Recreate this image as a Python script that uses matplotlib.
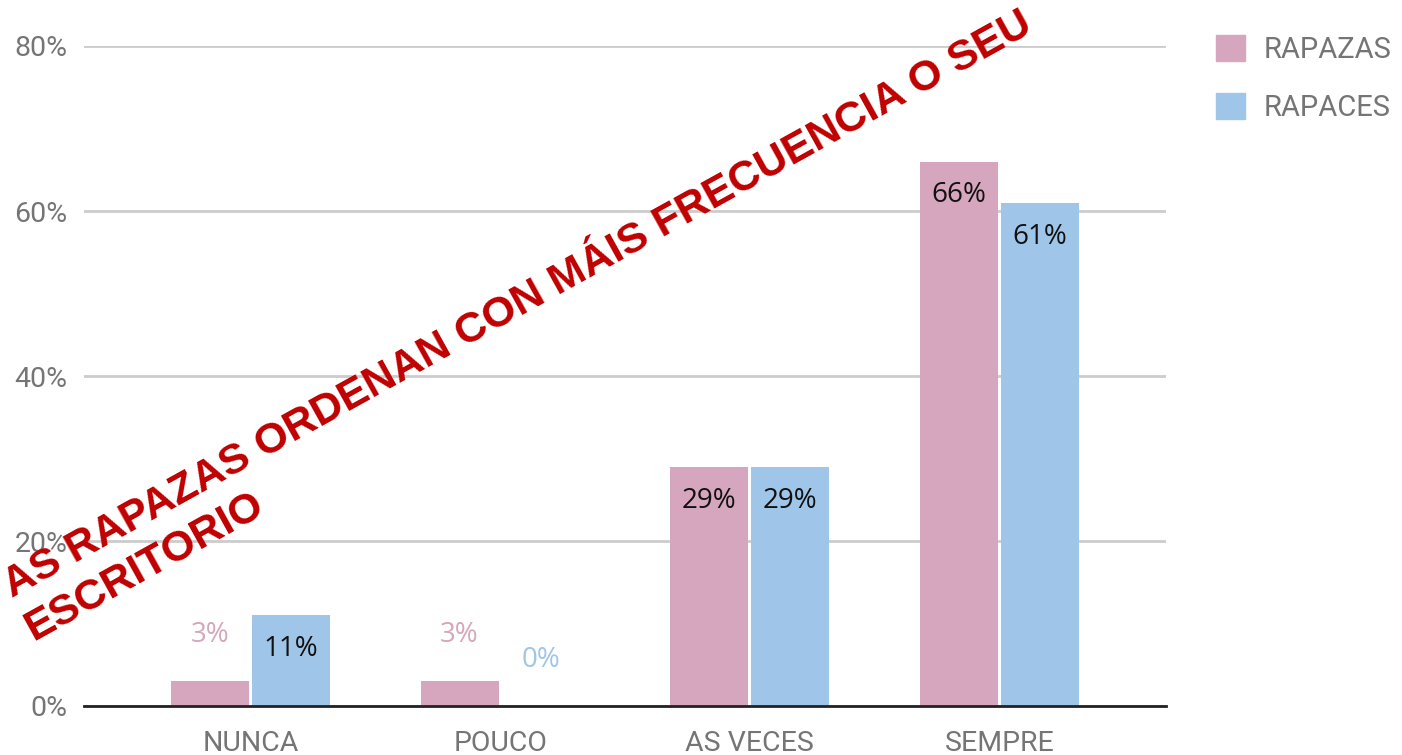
import numpy as np
import matplotlib
matplotlib.use('Agg')
import matplotlib.pyplot as plt
from matplotlib.patches import Patch

# datos
categorias = ['NUNCA', 'POUCO', 'AS VECES', 'SEMPRE']
rapazas = [3, 3, 29, 66]
rapaces = [11, 0, 29, 61]
etiquetas_y = ['0%', '20%', '40%', '60%', '80%']
titulo_1 = 'AS RAPAZAS ORDENAN CON MÁIS FRECUENCIA O SEU'
titulo_2 = 'ESCRITORIO'

rosa = '#D5A6BD'
azul = '#9FC5E8'
gris = '#757575'

plt.rcParams['font.family'] = ['Roboto', 'DejaVu Sans']

fig = plt.figure(figsize=(14.02, 7.55), dpi=100)
ax = fig.add_axes([84 / 1402, 1 - 706 / 755, (1166 - 84) / 1402, (706 - 46) / 755])

x = np.arange(len(categorias))
ancho = 0.313
hueco = 0.006
b1 = ax.bar(x - ancho / 2 - hueco, rapazas, ancho, color=rosa, zorder=3)
b2 = ax.bar(x + ancho / 2 + hueco, rapaces, ancho, color=azul, zorder=3)

ax.set_xlim(-0.667, 3.667)
ax.set_ylim(0, 80)
ax.set_yticks([0, 20, 40, 60, 80])
ax.set_yticklabels(etiquetas_y)
ax.set_xticks(x)
ax.set_xticklabels(categorias)
ax.tick_params(axis='both', length=0, labelsize=20.5, labelcolor=gris)
ax.tick_params(axis='y', pad=12)
ax.tick_params(axis='x', pad=17)
ax.grid(axis='y', color='#cccccc', linewidth=2, zorder=0)
for s in ['top', 'right', 'left']:
    ax.spines[s].set_visible(False)
ax.spines['bottom'].set_linewidth(2)
ax.spines['bottom'].set_color('#222222')
ax.spines['bottom'].set_zorder(4)

# etiquetas de valores
for barras, vals, col in [(b1, rapazas, rosa), (b2, rapaces, azul)]:
    for b, v in zip(barras, vals):
        cx = b.get_x() + b.get_width() / 2
        if v >= 10:
            ax.annotate('%d%%' % v, (cx, v), xytext=(0, -34), textcoords='offset pixels',
                        ha='center', va='center', fontsize=20, color='#111111',
                        family=['Open Sans', 'DejaVu Sans'], zorder=5)
        else:
            ax.annotate('%d%%' % v, (cx, v), xytext=(0, 46), textcoords='offset pixels',
                        ha='center', va='center', fontsize=20, color=col,
                        family=['Open Sans', 'DejaVu Sans'], zorder=5)

# leyenda
handles = [Patch(color=rosa, label='RAPAZAS'), Patch(color=azul, label='RAPACES')]
fig.legend(handles=handles, loc='upper left', bbox_to_anchor=(1201 / 1402, 1 - 20 / 755),
           frameon=False, fontsize=21, labelcolor=gris, handlelength=1.0, handleheight=1.0,
           handletextpad=0.65, labelspacing=1.0, borderpad=0)

# texto rojo rotado
fig.text(12 / 1402, 1 - 598 / 755, titulo_1, rotation=29.0, rotation_mode='anchor',
         ha='left', va='baseline', fontsize=31, fontweight='bold', color='#C00000',
         family=['Liberation Sans', 'DejaVu Sans'], zorder=10)
fig.text(33 / 1402, 1 - 641 / 755, titulo_2, rotation=29.0, rotation_mode='anchor',
         ha='left', va='baseline', fontsize=31, fontweight='bold', color='#C00000',
         family=['Liberation Sans', 'DejaVu Sans'], zorder=10)

fig.savefig('out.png', dpi=100)
